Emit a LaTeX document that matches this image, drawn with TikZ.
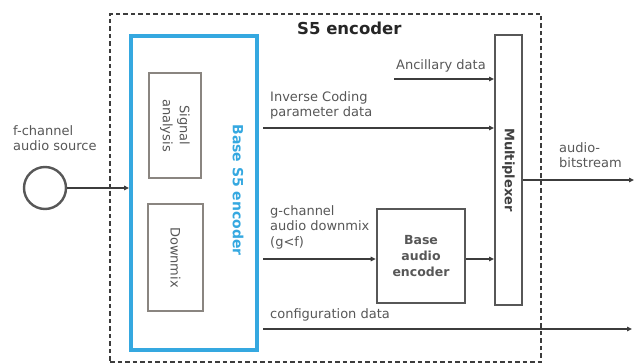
\documentclass[tikz,border=0pt]{standalone}
\usepackage{fontspec}
\setmainfont{DejaVu Sans}
\usetikzlibrary{positioning, arrows.meta, calc}

\definecolor{sfblue}{HTML}{35A8E0}
\definecolor{txtgray}{HTML}{575757}
\definecolor{linegray}{HTML}{3C3C3C}
\definecolor{boxgray}{HTML}{8A8580}

\begin{document}
\begin{tikzpicture}[
    x=1pt, y=-1pt,
    % Node styles
    frame/.style={
        rectangle,
        draw=linegray,
        line width=1.8pt,
        dash pattern=on 4.5pt off 3pt
    },
    subbox/.style={
        rectangle,
        draw=boxgray,
        line width=1.1pt,
        rotate=-90,
        align=center,
        text=txtgray,
        font=\fontsize{13}{17}\selectfont
    },
    block/.style={
        rectangle,
        draw=#1,
        line width=2.6pt,
        align=center,
        text=txtgray,
        font=\bfseries\fontsize{12.5}{16}\selectfont
    },
    block/.default=txtgray,
    lbl/.style={
        inner sep=0pt,
        anchor=north west,
        align=left,
        text=txtgray,
        font=\fontsize{13}{15.5}\selectfont
    },
    arrow/.style={
        -{Triangle[length=5pt, width=4.5pt]},
        line width=1.3pt,
        draw=linegray
    }
]
\useasboundingbox (0,0) rectangle (635,363);

% Outer S5 encoder frame
\node[frame, minimum width=431pt, minimum height=348pt] (frame) at (325.5,188) {};
\node[anchor=base west, inner sep=0pt, text=black!85,
      font=\bfseries\fontsize{16.5}{20}\selectfont] (title) at (297,35) {S5 encoder};

% Source
\node[circle, draw=txtgray, line width=2.4pt, minimum size=42pt] (src) at (45,188) {};
\node[lbl] (srcT) at (13,125) {f-channel\\audio source};

% Base S5 encoder
\node[block=sfblue, line width=3.8pt, minimum width=126pt, minimum height=314pt] (base) at (194,193) {};
\node[rotate=-90, text=sfblue, font=\bfseries\fontsize{14}{17}\selectfont] (baseT) at (238,190) {Base S5 encoder};
\node[subbox, minimum width=105pt, minimum height=52pt] (sig) at (175,125.5) {Signal\\analysis};
\node[subbox, minimum width=107pt, minimum height=55pt] (dmx) at (175.5,257.5) {Downmix};

% Multiplexer and base audio encoder
\node[block, rotate=-90, line width=2pt, text=black!75, font=\bfseries\fontsize{13}{16}\selectfont,
      minimum width=270pt, minimum height=27pt] (mux) at (508.5,170) {Multiplexer};
\node[block, minimum width=88pt, minimum height=94pt] (bae) at (421,256) {Base\\audio\\encoder};

% Connector ends
\coordinate (anc) at (394,79);
\coordinate (invL) at (263,128);
\coordinate (gchL) at (263,259);
\coordinate (cfgL) at (263,329);
\coordinate (cfgR) at (632,329);
\coordinate (outR) at (634,180);

% Labels
\node[lbl] (ancT) at (396,59) {Ancillary data};
\node[lbl] (invT) at (270,91) {Inverse Coding\\parameter data};
\node[lbl] (gchT) at (270,205) {g-channel\\audio downmix\\(g<f)};
\node[lbl] (cfgT) at (270,308) {configuration data};
\node[lbl] (outT) at (559,142) {audio-\\bitstream};

% Arrows
\draw[arrow] (src.east) -- (src.east -| base.west);
\draw[arrow] (anc) -- (anc -| mux.south);
\draw[arrow] (invL) -- (invL -| mux.south);
\draw[arrow] (gchL) -- (gchL -| bae.west);
\draw[arrow] (gchL -| bae.east) -- (gchL -| mux.south);
\draw[arrow] (outR -| mux.north) -- (outR);
\draw[arrow] (cfgL) -- (cfgR);

\end{tikzpicture}
\end{document}
